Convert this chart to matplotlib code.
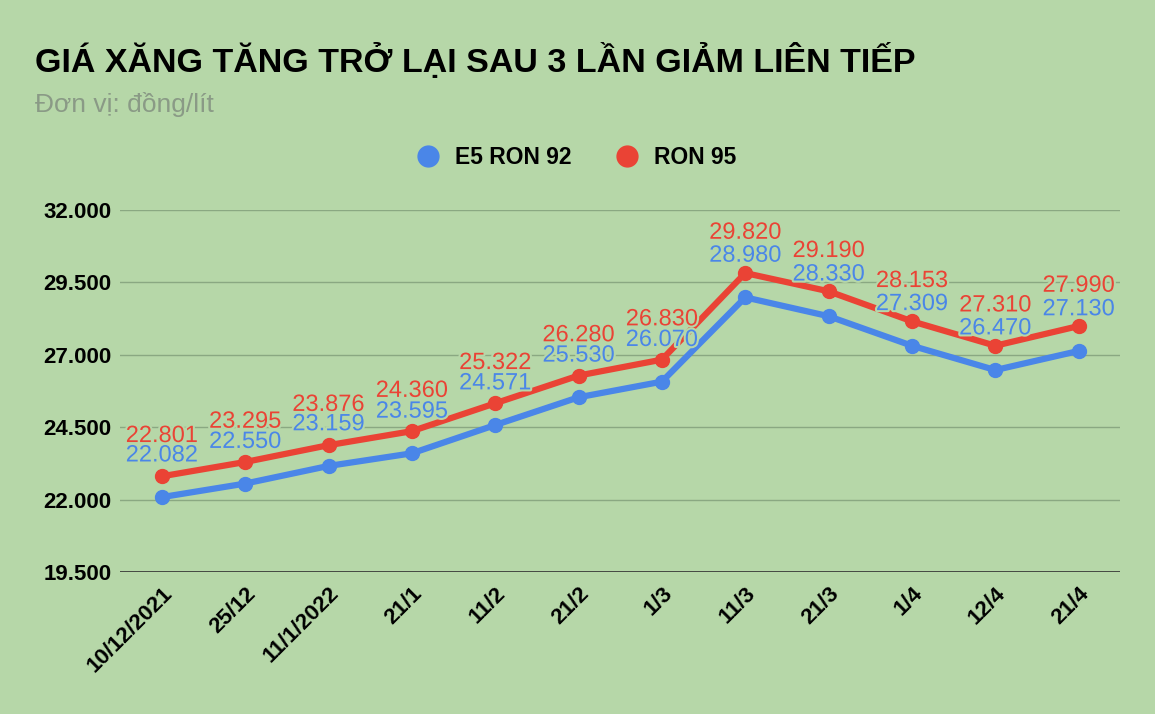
import matplotlib.pyplot as plt
import matplotlib.patheffects as pe

dates = ['10/12/2021', '25/12', '11/1/2022', '21/1', '11/2', '21/2', '1/3',
         '11/3', '21/3', '1/4', '12/4', '21/4']
e5_ron92 = [22082, 22550, 23159, 23595, 24571, 25530, 26070, 28980, 28330, 27309, 26470, 27130]
ron95 = [22801, 23295, 23876, 24360, 25322, 26280, 26830, 29820, 29190, 28153, 27310, 27990]
yticks = [19500, 22000, 24500, 27000, 29500, 32000]

bg = '#b6d7a8'
blue = '#4a86e8'
red = '#ea4335'

plt.rcParams['font.family'] = 'Liberation Sans'

fig = plt.figure(figsize=(11.55, 7.14), dpi=100, facecolor=bg)
ax = fig.add_axes([0.104, 0.199, 0.866, 0.507], facecolor=bg)

x = range(len(dates))
ax.plot(x, e5_ron92, color=blue, lw=4.5, marker='o', ms=10, label='E5 RON 92', zorder=3)
ax.plot(x, ron95, color=red, lw=4.5, marker='o', ms=10, label='RON 95', zorder=4)


def fmt(v):
    return f'{v:,}'.replace(',', '.')


halo = [pe.withStroke(linewidth=3, foreground=bg)]
for i in x:
    ax.annotate(fmt(e5_ron92[i]), (i, e5_ron92[i]), xytext=(0, 30), textcoords='offset points',
                ha='center', va='center', color=blue, fontsize=17, path_effects=halo, zorder=5)
    ax.annotate(fmt(ron95[i]), (i, ron95[i]), xytext=(0, 29), textcoords='offset points',
                ha='center', va='center', color=red, fontsize=17, path_effects=halo, zorder=6)

ax.set_xlim(-0.5, 11.5)
ax.set_ylim(19500, 32000)
ax.set_yticks(yticks)
ax.set_yticklabels([fmt(v) for v in yticks], fontsize=16, fontweight='bold')
ax.set_xticks(list(x))
ax.set_xticklabels(dates, rotation=45, ha='right', rotation_mode='anchor', fontsize=16, fontweight='bold')
ax.grid(axis='y', color='#8aa882', lw=1)
ax.axhline(19500, color='#333333', lw=1.2)
for s in ax.spines.values():
    s.set_visible(False)
ax.tick_params(length=0, pad=8)
ax.tick_params(axis='y', pad=6)

fig.text(0.03, 0.915, 'GIÁ XĂNG TĂNG TRỞ LẠI SAU 3 LẦN GIẢM LIÊN TIẾP', fontsize=24.5,
         fontweight='bold', va='center')
fig.text(0.03, 0.853, 'Đơn vị: đồng/lít', fontsize=19, color='#8a9a86', va='center')
fig.legend(loc='center', bbox_to_anchor=(0.5, 0.78), ncol=2, frameon=False,
           handlelength=0.8, markerscale=1.5, prop={'weight': 'bold', 'size': 16.5})
for h in fig.legends[0].legend_handles:
    h.set_linestyle('none')

fig.savefig('out.png', facecolor=bg)
